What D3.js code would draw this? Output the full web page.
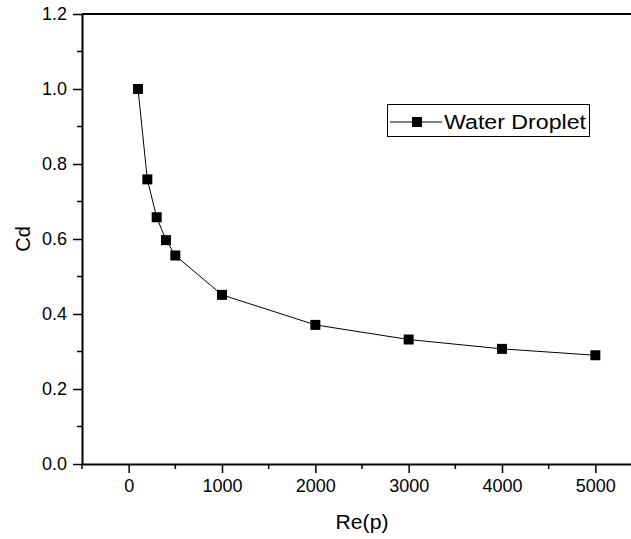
<!DOCTYPE html>
<html><head><meta charset="utf-8">
<script src="https://cdn.jsdelivr.net/npm/d3@7"></script>
<style>body{margin:0;background:#fff}svg{display:block}text{font-family:"Liberation Sans",Arial,sans-serif;fill:#000}</style>
</head><body>
<svg id="c" width="631" height="539"></svg>
<script>
const reValues = [100, 200, 300, 400, 500, 1000, 2000, 3000, 4000, 5000];
const cdValues = [1.0, 0.759, 0.658, 0.597, 0.556, 0.451, 0.371, 0.332, 0.307, 0.290];
const xTicks = [0, 1000, 2000, 3000, 4000, 5000];
const yTicks = [0.0, 0.2, 0.4, 0.6, 0.8, 1.0, 1.2];
const seriesName = "Water Droplet";

const svg = d3.select("#c");
const L = 82, T = 14, B = 464, R = 642;
const x = d3.scaleLinear().domain([-500, 5500]).range([L, R]);
const y = d3.scaleLinear().domain([0, 1.2]).range([B, T]);

const xMinor = d3.range(-500, 5501, 500).filter(v => v % 1000 !== 0);
const yMinor = d3.range(0.1, 1.2, 0.2);

const xAxis = svg.append("g").attr("transform", `translate(0,${B})`)
  .call(d3.axisBottom(x).tickValues(xTicks).tickFormat(d3.format("d")).tickSize(9).tickSizeOuter(0).tickPadding(6));
xAxis.select(".domain").attr("stroke-width", 2);
xAxis.selectAll(".tick line").attr("stroke-width", 1.5);
xAxis.selectAll(".tick text").attr("font-size", 18).style("font-family", "Liberation Sans, Arial, sans-serif");
svg.append("g").attr("transform", `translate(0,${B})`)
  .selectAll("line").data(xMinor).join("line")
  .attr("x1", d => x(d)).attr("x2", d => x(d)).attr("y1", 0).attr("y2", 5)
  .attr("stroke", "#000").attr("stroke-width", 1.5);

const yAxis = svg.append("g").attr("transform", `translate(${L},0)`)
  .call(d3.axisLeft(y).tickValues(yTicks).tickFormat(d3.format(".1f")).tickSize(9).tickSizeOuter(0).tickPadding(6));
yAxis.select(".domain").attr("stroke-width", 2);
yAxis.selectAll(".tick line").attr("stroke-width", 1.5);
yAxis.selectAll(".tick text").attr("font-size", 18).style("font-family", "Liberation Sans, Arial, sans-serif");
svg.append("g").attr("transform", `translate(${L},0)`)
  .selectAll("line").data(yMinor).join("line")
  .attr("x1", -5).attr("x2", 0).attr("y1", d => y(d)).attr("y2", d => y(d))
  .attr("stroke", "#000").attr("stroke-width", 1.5);

svg.append("line").attr("x1", L).attr("x2", R).attr("y1", T).attr("y2", T).attr("stroke", "#000").attr("stroke-width", 2);
svg.append("line").attr("x1", R).attr("x2", R).attr("y1", T).attr("y2", B).attr("stroke", "#000").attr("stroke-width", 2);

svg.append("text").attr("x", x(2500)).attr("y", 529).attr("text-anchor", "middle").attr("font-size", 20)
  .attr("textLength", 53).attr("lengthAdjust", "spacingAndGlyphs").text("Re(p)");
svg.append("text").attr("transform", `translate(30,${(T + B) / 2}) rotate(-90)`).attr("text-anchor", "middle").attr("font-size", 20).text("Cd");

const pts = reValues.map((v, i) => [v, cdValues[i]]);
svg.append("path").datum(pts)
  .attr("d", d3.line().x(d => x(d[0])).y(d => y(d[1])))
  .attr("fill", "none").attr("stroke", "#000").attr("stroke-width", 1);
svg.append("g").selectAll("rect").data(pts).join("rect")
  .attr("x", d => x(d[0]) - 5).attr("y", d => y(d[1]) - 5)
  .attr("width", 10).attr("height", 10).attr("fill", "#000");

const lg = svg.append("g");
lg.append("rect").attr("x", 387.5).attr("y", 104.5).attr("width", 202).attr("height", 32)
  .attr("fill", "#fff").attr("stroke", "#000").attr("stroke-width", 1);
lg.append("line").attr("x1", 390).attr("x2", 442).attr("y1", 122).attr("y2", 122).attr("stroke", "#000").attr("stroke-width", 1);
lg.append("rect").attr("x", 412).attr("y", 117).attr("width", 10).attr("height", 10).attr("fill", "#000");
lg.append("text").attr("x", 444).attr("y", 129).attr("font-size", 20)
  .attr("textLength", 142).attr("lengthAdjust", "spacingAndGlyphs").text(seriesName);
</script>
</body></html>
